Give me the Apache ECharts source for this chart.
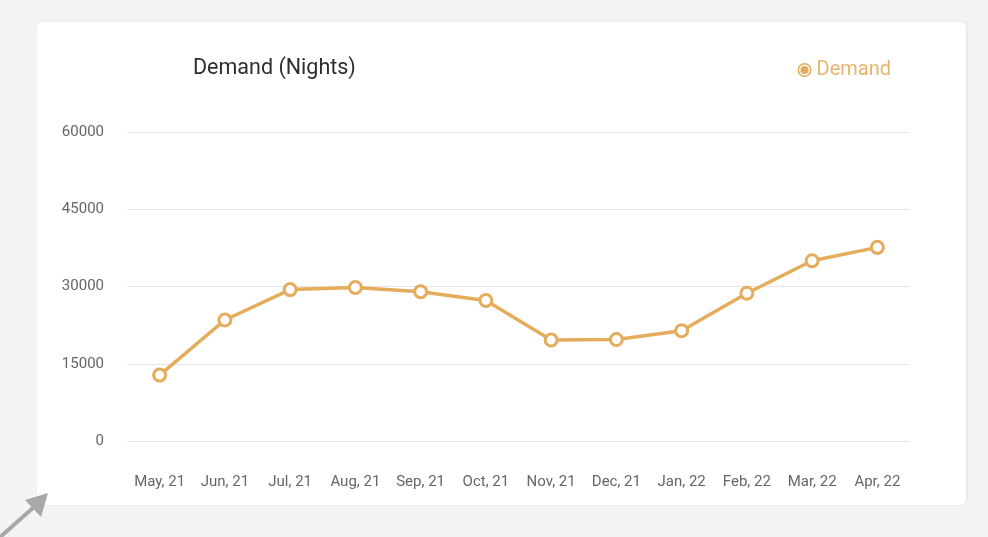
<!DOCTYPE html>
<html><head><meta charset="utf-8">
<script src="https://cdn.jsdelivr.net/npm/echarts@6/dist/echarts.min.js"></script>
<style>html,body{margin:0;padding:0;background:#f3f3f3;}#c{width:988px;height:537px;}</style>
</head><body><div id="c"></div>
<script>
const categories = ['May, 21','Jun, 21','Jul, 21','Aug, 21','Sep, 21','Oct, 21','Nov, 21','Dec, 21','Jan, 22','Feb, 22','Mar, 22','Apr, 22'];
const demandValues = [12800, 23500, 29400, 29800, 29000, 27300, 19600, 19700, 21400, 28700, 35000, 37600];
const yTicks = [0, 15000, 30000, 45000, 60000];

const chart = echarts.init(document.getElementById('c'), null, {renderer:'canvas'});
const orange = '#e5ac5b';
chart.setOption({
  animation: false,
  textStyle: {fontFamily: 'Roboto'},
  graphic: [
    {type:'rect', z:-10, shape:{x:37,y:22,width:929,height:483,r:5}, style:{fill:'#fff', shadowBlur:2, shadowOffsetX:1, shadowColor:'rgba(120,150,170,0.18)'}},
    {type:'line', z:-5, shape:{x1:-2,y1:539,x2:34,y2:507}, style:{stroke:'#a8a8a8', lineWidth:4}},
    {type:'polygon', z:-5, shape:{points:[[48,493],[25,500],[41,517]]}, style:{fill:'#a8a8a8'}}
  ],
  title: {text:'Demand (Nights)', left:193, top:58, padding:0, textStyle:{fontSize:21.5, fontWeight:'normal', color:'#2e2e2e', fontFamily:'Roboto'}},
  legend: {data:['Demand'], right:97, top:60, padding:0,
    icon:'path://M12,0 A12,12 0 1,1 12,24 A12,12 0 1,1 12,0 Z M12,2.6 A9.4,9.4 0 1,0 12,21.4 A9.4,9.4 0 1,0 12,2.6 Z M12,5 A7,7 0 1,1 12,19 A7,7 0 1,1 12,5 Z',
    itemWidth:14, itemHeight:14,
    itemStyle:{color:orange, borderWidth:0},
    textStyle:{fontSize:20, color:'#e8b36c', fontFamily:'Roboto'}},
  grid: {left:127, right:78, top:132, bottom:96},
  xAxis: {type:'category', data:categories, boundaryGap:true,
    axisLine:{show:false}, axisTick:{show:false},
    axisLabel:{color:'#666', fontSize:15, margin:34, interval:0}},
  yAxis: {type:'value', min:yTicks[0], max:yTicks[yTicks.length-1], interval:15000,
    axisLine:{show:false}, axisTick:{show:false},
    axisLabel:{color:'#666', fontSize:15, margin:23, formatter: v => String(v)},
    splitLine:{lineStyle:{color:'#e6e6e6', width:1}}},
  series: [{name:'Demand', type:'line', data:demandValues, symbol:'circle', symbolSize:12,
    lineStyle:{color:orange, width:3.5}, itemStyle:{color:'#fff', borderColor:orange, borderWidth:3}}]
});
</script></body></html>
